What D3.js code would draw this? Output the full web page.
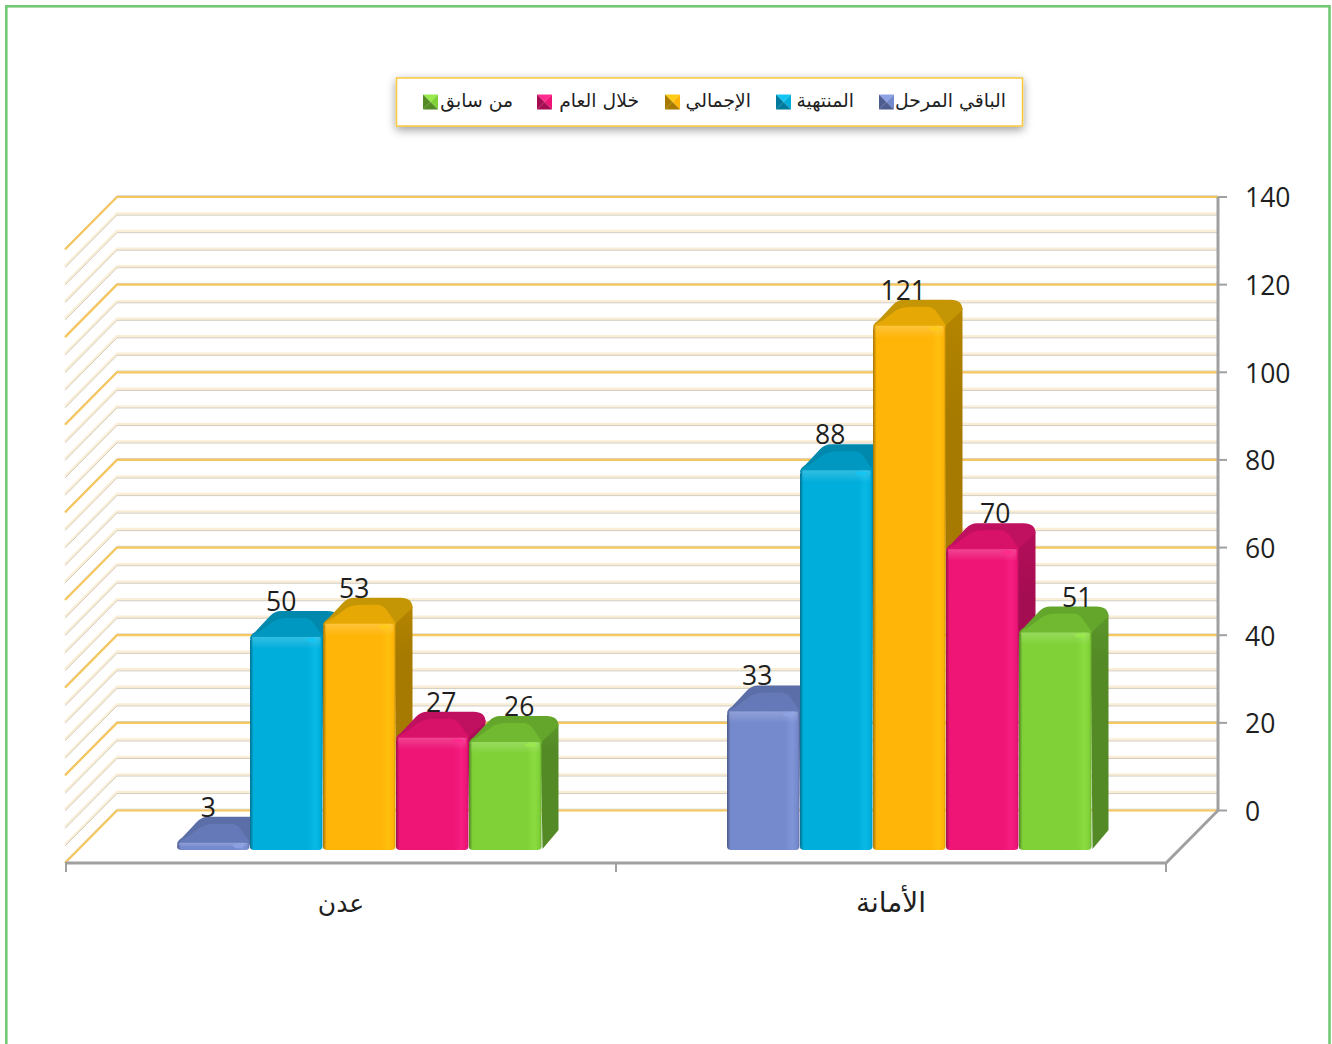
<!DOCTYPE html>
<html><head><meta charset="utf-8">
<style>html,body{margin:0;padding:0;background:#fff;overflow:hidden}svg{display:block}</style>
<script src="https://cdn.jsdelivr.net/npm/d3@7"></script></head>
<body><svg id="c" width="1332" height="1044"></svg>
<script>
const categories = ["عدن", "الأمانة"];
const seriesNames = ["الباقي المرحل", "المنتهية", "الإجمالي", "خلال العام", "من سابق"];
const baqi = [3, 33];
const muntahia = [50, 88];
const ijmali = [53, 121];
const khilal = [27, 70];
const sabiq = [26, 51];
const seriesValues = [baqi, muntahia, ijmali, khilal, sabiq];
const frontColors = ["#7589cd", "#00aedb", "#ffb508", "#ee1577", "#7fd137"];
const sideColors  = ["#4e5e90", "#007a9c", "#a67a00", "#a50d52", "#548a26"];
const topColors   = ["#5b6ea8", "#0089ad", "#c49505", "#c01060", "#63a62b"];
const innerColors = ["#6579b8", "#0098c0", "#e5a805", "#d81269", "#70b930"];
const lightColors = ["#8ea2e6", "#12c6f4", "#ffcc14", "#ff2a8e", "#98ea4a"];
const legendTextRight = [1006, 854, 751, 639, 513];
const legendSwatchLeft = [879, 776, 665, 537, 423];
// horizontal shift of each value label from its bar centre, per series and category
const labelShift = [[-5, -6], [-5, -6], [-5, -6], [9, 13], [14, 22]];

const svg = d3.select("#c");
const font = "'Open Sans', sans-serif";
const arabicFont = "'DejaVu Sans', sans-serif";
const dx = 52, dy = 52.5;
const yBack = d3.scaleLinear().domain([0, 140]).range([810.5, 197]);
const kPx = yBack(0) - yBack(1);
const xBand = d3.scaleBand().domain(categories).range([66, 1166]);
const barStep = 73, barW = 72.5, barBase = 850, depthX = 17, depthY = 20;
const barX = (ci, si) => xBand(categories[ci]) + 111 + si * barStep;

svg.append("rect").attr("x",6.3).attr("y",6.3).attr("width",1323.2).attr("height",1060)
  .attr("fill","#fff").attr("stroke","#73c873").attr("stroke-width",2.6);

const defs = svg.append("defs");
const sh = defs.append("filter").attr("id","ls").attr("x","-5%").attr("y","-40%").attr("width","110%").attr("height","190%");
sh.append("feDropShadow").attr("dx",0).attr("dy",3).attr("stdDeviation",5).attr("flood-color","#000").attr("flood-opacity",0.4);
frontColors.forEach((c,i)=>{
  const mid = d3.interpolateRgb(c, lightColors[i])(0.45);
  const g = defs.append("linearGradient").attr("id","f"+i);
  [[0,d3.color(c).darker(1.2)],[0.05,c],[0.8,c],[0.9,mid],[0.97,c],[1,d3.color(c).darker(0.5)]]
    .forEach(s=>g.append("stop").attr("offset",s[0]).attr("stop-color",s[1]));
  const s = defs.append("linearGradient").attr("id","p"+i).attr("x2",0).attr("y2",1);
  [[0,d3.color(sideColors[i]).brighter(0.25)],[0.2,sideColors[i]],[1,sideColors[i]]].forEach(t=>s.append("stop").attr("offset",t[0]).attr("stop-color",t[1]));
});
const sheen = defs.append("linearGradient").attr("id","sheen").attr("x2",0).attr("y2",1);
[[0,0.2],[1,0]].forEach(t=>sheen.append("stop").attr("offset",t[0]).attr("stop-color","#fff").attr("stop-opacity",t[1]));

// gridlines
const gridVals = d3.range(0, 140.1, 4);
const grid = svg.append("g");
gridVals.forEach(v=>{
  const y = yBack(v), major = v % 20 === 0;
  const pts = [[117-dx,y+dy],[117,y],[1218,y]];
  const ln = d3.line();
  if(major){
    grid.append("path").attr("d",ln(pts.map(p=>[p[0],p[1]-1.3]))).attr("fill","none").attr("stroke","#c9c3b5").attr("stroke-width",0.8);
    grid.append("path").attr("d",ln(pts)).attr("fill","none").attr("stroke","#f6c75e").attr("stroke-width",2.2);
  } else {
    grid.append("path").attr("d",ln(pts.map(p=>[p[0],p[1]-1]))).attr("fill","none").attr("stroke","#fbeed6").attr("stroke-width",2.4);
    grid.append("path").attr("d",ln(pts.map(p=>[p[0],p[1]+0.6]))).attr("fill","none").attr("stroke","#d2ccbf").attr("stroke-width",1);
  }
});

// axes frame
const gray = "#a0a0a0";
svg.append("path").attr("d",`M${1218},${yBack(140)}V${yBack(0)}L${1218-dx},${yBack(0)+dy}H66`)
  .attr("fill","none").attr("stroke",gray).attr("stroke-width",3);
yBack.ticks(7).forEach(v=>{
  svg.append("line").attr("x1",1218).attr("x2",1227).attr("y1",yBack(v)).attr("y2",yBack(v)).attr("stroke",gray).attr("stroke-width",2);
  svg.append("text").attr("x",1245).attr("y",yBack(v)+10.3).attr("font-family",font).attr("font-size",26.5).attr("fill","#1f1f1f").text(v);
});
[66,616,1166].forEach(x=>svg.append("line").attr("x1",x).attr("x2",x).attr("y1",862).attr("y2",872).attr("stroke",gray).attr("stroke-width",2));
categories.forEach(c=>{
  svg.append("text").attr("x",xBand(c)+xBand.bandwidth()/2).attr("y",912)
    .attr("text-anchor","middle").attr("font-family",arabicFont).attr("font-size",c==="عدن"?25:28).attr("fill","#1f1f1f").text(c);
});

// bars
const bars = svg.append("g");
categories.forEach((c,ci)=>{
  seriesValues.forEach((vals,si)=>{
    const v = vals[ci], x0 = barX(ci,si), x1 = x0+barW, T = barBase - v*kPx;
    const g = bars.append("g");
    g.append("path").attr("d",`M${x1-1},${T+4}L${x1+depthX},${T-12}V${barBase-depthY}L${x1+1},${barBase-1}Z`)
      .attr("fill",`url(#p${si})`);
    g.append("path").attr("d",
      `M${x0},${T+8}Q${x0},${T+4} ${x0+5},${T+1}L${x0+20},${T-15}Q${x0+25},${T-20} ${x0+31},${T-20}`+
      `H${x1+5}Q${x1+depthX},${T-20} ${x1+depthX},${T-10}L${x1},${T+6}L${x1},${T+8}Z`)
      .attr("fill",topColors[si]);
    g.append("path").attr("d",
      `M${x0+1},${T+7}Q${x0+3},${T+3} ${x0+9},${T+1}L${x0+24},${T-10}Q${x0+30},${T-13} ${x0+38},${T-13}`+
      `H${x1-17}Q${x1-12},${T-12} ${x1-9},${T-8}L${x1},${T+5}V${T+8}Z`)
      .attr("fill",innerColors[si]);
    const top = T+7;
    g.append("path").attr("d",
      `M${x0},${top+3}Q${x0},${top-1} ${x0+6},${top-1}H${x1-6}Q${x1},${top-1} ${x1},${top+3}V${barBase-4}Q${x1},${barBase} ${x1-4},${barBase}H${x0+4}Q${x0},${barBase} ${x0},${barBase-4}Z`)
      .attr("fill",`url(#f${si})`);
    const sheenH = Math.min(12, barBase-top-2);
    g.append("rect").attr("x",x0+2).attr("y",top-1).attr("width",barW-4).attr("height",sheenH).attr("fill","url(#sheen)");
    g.append("ellipse").attr("cx",x1-11).attr("cy",top+2).attr("rx",6).attr("ry",2.2).attr("fill",lightColors[si]).attr("opacity",0.8);
  });
});
// value labels on top of all bars
categories.forEach((c,ci)=>{
  seriesValues.forEach((vals,si)=>{
    const v = vals[ci], T = barBase - v*kPx;
    svg.append("text").attr("x",barX(ci,si)+barW/2+labelShift[si][ci]).attr("y",T-20)
      .attr("font-family",font).attr("font-size",26.5).attr("fill","#1f1f1f").attr("text-anchor","middle").text(v);
  });
});

// legend
const leg = svg.append("g");
leg.append("rect").attr("x",396.5).attr("y",78).attr("width",626).attr("height",48)
  .attr("fill","#fff").attr("stroke","#f8c93c").attr("stroke-width",1.5).attr("filter","url(#ls)");
seriesNames.forEach((n,i)=>{
  const s = legendSwatchLeft[i], y = 94.5, w = 15;
  const cx = s+w/2, cy = y+w/2;
  const tri = (a,b,col)=>leg.append("path").attr("d",`M${a[0]},${a[1]}L${b[0]},${b[1]}L${cx},${cy}Z`).attr("fill",col);
  tri([s,y],[s+w,y],lightColors[i]);
  tri([s+w,y],[s+w,y+w],frontColors[i]);
  tri([s+w,y+w],[s,y+w],sideColors[i]);
  tri([s,y+w],[s,y],sideColors[i]);
  leg.append("text").attr("x",legendTextRight[i]).attr("y",106.5).attr("text-anchor","end")
    .attr("font-family",arabicFont).attr("font-size",18.8).attr("fill","#1f1f1f").text(n);
});
</script></body></html>
